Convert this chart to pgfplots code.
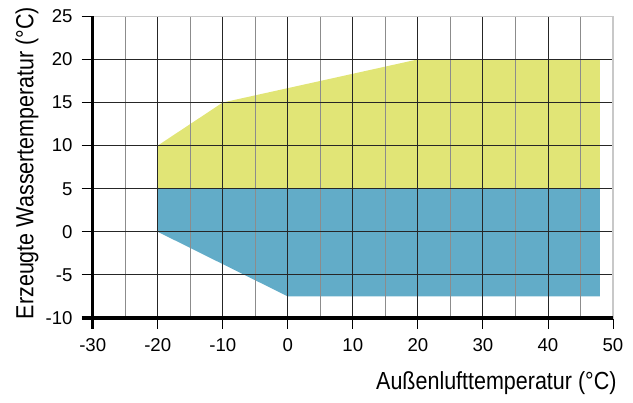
\documentclass[border=0pt]{standalone}
\usepackage{fontspec}
\setmainfont{Liberation Sans}
\newfontfamily\labelfont[FakeStretch=0.87]{Liberation Sans}
\usepackage{pgfplots}
\pgfplotsset{compat=1.18}
\definecolor{zoneyellow}{HTML}{E1E576}
\definecolor{zoneblue}{HTML}{62ACC8}
\definecolor{gridminor}{HTML}{8C8C8C}
\definecolor{framegray}{HTML}{C8C8C8}

\begin{document}
\begin{tikzpicture}
\path[use as bounding box] (-92.7pt,-85pt) rectangle (540.3pt,318pt);
\begin{axis}[
    name=ax,
    at={(0,0)}, anchor=south west,
    scale only axis,
    width=520.3pt, height=301.7pt,
    xmin=-30, xmax=50, ymin=-10, ymax=25,
    xtick={-30,-20,...,50},
    minor xtick={-25,-15,...,45},
    ytick={-10,-5,...,25},
    xticklabels={-30,-20,-10,0,10,20,30,40,50},
    yticklabels={-10,-5,0,5,10,15,20,25},
    grid=both,
    major grid style={draw=black!85, line width=0.9pt},
    minor grid style={draw=gridminor, line width=0.9pt},
    axis line style={draw=framegray, line width=1.4pt},
    tick align=outside,
    major tick length=11pt,
    minor tick length=0pt,
    tick style={black, line width=0.9pt},
    xtick pos=bottom, ytick pos=left,
    axis on top,
    xticklabel style={font=\fontsize{18.6}{22}\selectfont, anchor=base, inner sep=0pt, yshift=-22.3pt},
    yticklabel style={font=\fontsize{18.6}{22}\selectfont, anchor=east, inner sep=0pt, xshift=-9pt},
    xlabel={Außenlufttemperatur (°C)},
    ylabel={Erzeugte Wassertemperatur (°C)},
    xlabel style={font=\labelfont\fontsize{24.7}{28}\selectfont, inner sep=0pt,
        at={(axis description cs:1.0071,-0.2363)}, anchor=base east},
    ylabel style={font=\labelfont\fontsize{24.7}{28}\selectfont, inner sep=0pt,
        at={(axis description cs:-0.1142,0.5138)}, anchor=base},
]
% Heizbetrieb (gelb)
\addplot[fill=zoneyellow, draw=none] coordinates {
    (-20,5) (-20,10) (-10,15) (20,20) (48,20) (48,5)
} --cycle;
% Kühlbetrieb (blau)
\addplot[fill=zoneblue, draw=none] coordinates {
    (-20,0) (-20,5) (48,5) (48,-7.5) (0,-7.5)
} --cycle;
\end{axis}
\draw[line width=3.6pt] (ax.north west) -- ([yshift=-11pt]ax.south west);
\draw[line width=3.6pt] ([xshift=-11pt]ax.south west) -- (ax.south east);
\end{tikzpicture}
\end{document}
